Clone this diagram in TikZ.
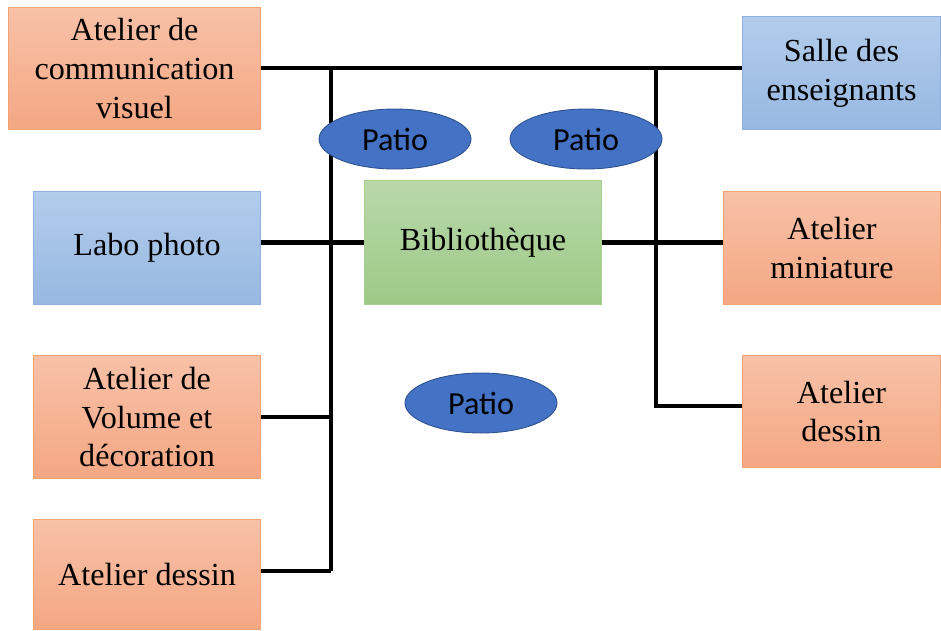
\documentclass[tikz,border=0pt]{standalone}
\usepackage{fontspec}
\setmainfont{Liberation Serif}
\newfontfamily\patiofont{Carlito}
\usetikzlibrary{shapes.geometric}
\definecolor{orTop}{HTML}{F8C1A8}
\definecolor{orBot}{HTML}{F4A783}
\definecolor{orLine}{HTML}{F4A26F}
\definecolor{blTop}{HTML}{B2CCEB}
\definecolor{blBot}{HTML}{97B8E2}
\definecolor{blLine}{HTML}{8EB1DD}
\definecolor{grTop}{HTML}{B9D8AB}
\definecolor{grBot}{HTML}{9DC986}
\definecolor{grLine}{HTML}{A6D08E}
\definecolor{patioFill}{HTML}{4472C4}
\definecolor{patioLine}{HTML}{2F528F}
\tikzset{
  room/.style={anchor=north west, rectangle, inner sep=0pt, align=center,
    font=\fontsize{18.3}{22}\selectfont, line width=0.6pt},
  orangebox/.style={room, draw=orLine, top color=orTop, bottom color=orBot},
  bluebox/.style={room, draw=blLine, top color=blTop, bottom color=blBot},
  greenbox/.style={room, draw=grLine, top color=grTop, bottom color=grBot},
  patio/.style={ellipse, fill=patioFill, draw=patioLine, line width=0.5pt,
    minimum width=152*0.02cm, minimum height=60*0.02cm, inner sep=0pt,
    font=\patiofont\fontsize{18.3}{22}\selectfont},
  link/.style={line width=2.6pt, black}
}
\begin{document}
\begin{tikzpicture}[x=0.02cm,y=-0.02cm]
\useasboundingbox (0,0) rectangle (941,630);
% rooms
\node[orangebox, minimum width=252*0.02cm, minimum height=122*0.02cm] (acv) at (8,7) {Atelier de\\communication\\visuel};
\node[bluebox, minimum width=198*0.02cm, minimum height=113*0.02cm] (salle) at (742,16) {Salle des\\enseignants};
\node[bluebox, minimum width=227*0.02cm, minimum height=113*0.02cm] (labo) at (33,191) {Labo photo};
\node[greenbox, minimum width=237*0.02cm, minimum height=124*0.02cm] (biblio) at (364,180) {Biblioth\`eque};
\node[orangebox, minimum width=217*0.02cm, minimum height=113*0.02cm] (mini) at (723,191) {Atelier\\miniature};
\node[orangebox, minimum width=227*0.02cm, minimum height=123*0.02cm] (volume) at (33,355) {Atelier de\\Volume et\\d\'ecoration};
\node[orangebox, minimum width=227*0.02cm, minimum height=110*0.02cm] (dessinL) at (33,519) {Atelier dessin};
\node[orangebox, minimum width=198*0.02cm, minimum height=112*0.02cm] (dessinR) at (742,355) {Atelier\\dessin};
% junctions
\coordinate (jl) at (331,68);
\coordinate (jr) at (656,68);
\coordinate (jv) at (331,417);
\coordinate (jd) at (331,571);
\coordinate (jrd) at (656,406);
% connectors
\draw[link] (acv.east |- jl) -- (salle.west |- jl);
\draw[link] (jl) -- (jd);
\draw[link] (jr) -- (jrd) -- (dessinR.west |- jrd);
\draw[link] (volume.east |- jv) -- (jv);
\draw[link] (dessinL.east |- jd) -- (jd);
\draw[link] (labo.east |- biblio.west) -- (biblio.west);
\draw[link] (biblio.east) -- (mini.west |- biblio.east);
% patios
\node[patio] (p1) at (395,139) {Patio};
\node[patio] (p2) at (586,139) {Patio};
\node[patio] (p3) at (481,403) {Patio};
\end{tikzpicture}
\end{document}
